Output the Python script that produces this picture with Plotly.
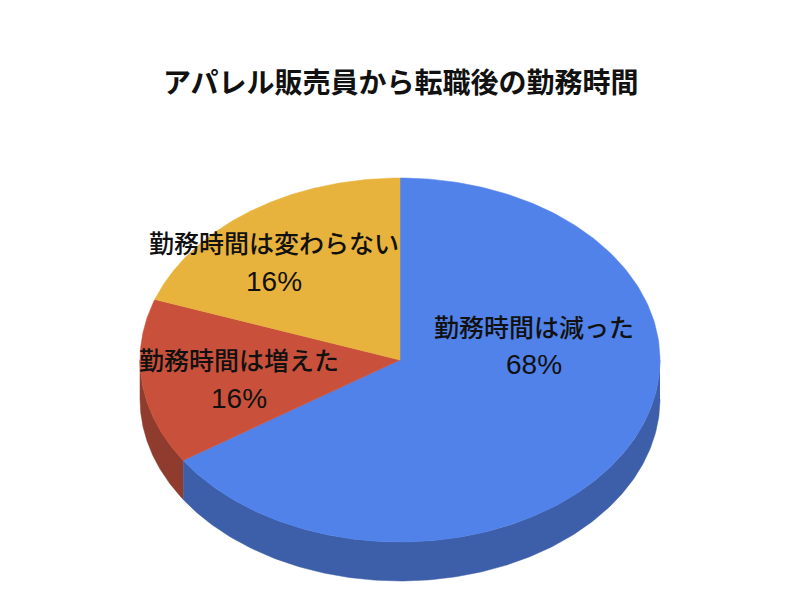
import numpy as np
import plotly.graph_objects as go

title = "アパレル販売員から転職後の勤務時間"

# clockwise from 12 o'clock
labels = ["勤務時間は減った", "勤務時間は増えた", "勤務時間は変わらない"]
percent_labels = ["68%", "16%", "16%"]
# shares as drawn: the picture's slices do not quite follow its printed percents
drawn_shares = [65.7, 14.7, 19.6]
top_colors = ["#5082ea", "#c9513c", "#e8b33c"]
side_colors = ["#3d5ea8", "#8f3b2e", "#b08a2e"]
label_x = [534, 239, 274]
name_y = [326, 359, 242]
percent_y = [364, 398, 281]

cx, cy = 400, 360
rx, ry = 260, 182
depth = 39
font_name = "Noto Sans CJK JP"


def ellipse(a_from, a_to, n=200):
    # angles in degrees, clockwise from the top
    t = np.radians(np.linspace(a_from, a_to, n))
    return cx + rx * np.sin(t), cy - ry * np.cos(t)


edges = np.cumsum([0] + drawn_shares) / sum(drawn_shares) * 360

fig = go.Figure()

# side wall, only the front half of the pie can be seen
for start, end, color in zip(edges[:-1], edges[1:], side_colors):
    a, b = max(start, 90), min(end, 270)
    if a >= b:
        continue
    x, y = ellipse(a, b)
    fig.add_trace(go.Scatter(
        x=np.concatenate([x, x[::-1]]),
        y=np.concatenate([y, y[::-1] + depth]),
        mode="lines", fill="toself", fillcolor=color,
        line=dict(color=color, width=0.5), hoverinfo="skip",
    ))

# top face
for start, end, color in zip(edges[:-1], edges[1:], top_colors):
    x, y = ellipse(start, end)
    fig.add_trace(go.Scatter(
        x=np.concatenate([[cx], x, [cx]]),
        y=np.concatenate([[cy], y, [cy]]),
        mode="lines", fill="toself", fillcolor=color,
        line=dict(color=color, width=0.5), hoverinfo="skip",
    ))

for name, pct, x, y1, y2 in zip(labels, percent_labels, label_x, name_y, percent_y):
    fig.add_annotation(
        x=x, y=y1, text=name, showarrow=False,
        font=dict(family=font_name, size=25, color="#111111", weight=500),
    )
    fig.add_annotation(
        x=x, y=y2, text=pct, showarrow=False,
        font=dict(family="Liberation Sans", size=28, color="#111111"),
    )

fig.add_annotation(
    x=400, y=81, text=title, showarrow=False,
    font=dict(family=font_name, size=28, color="#111111", weight=700),
)

fig.update_layout(
    width=800, height=600,
    margin=dict(l=0, r=0, t=0, b=0),
    paper_bgcolor="white", plot_bgcolor="white",
    showlegend=False,
    xaxis=dict(range=[0, 800], visible=False, fixedrange=True),
    yaxis=dict(range=[600, 0], visible=False, fixedrange=True),
)

fig.write_html("out.html", config=dict(displayModeBar=False),
               post_script="document.body.style.margin='0';")
